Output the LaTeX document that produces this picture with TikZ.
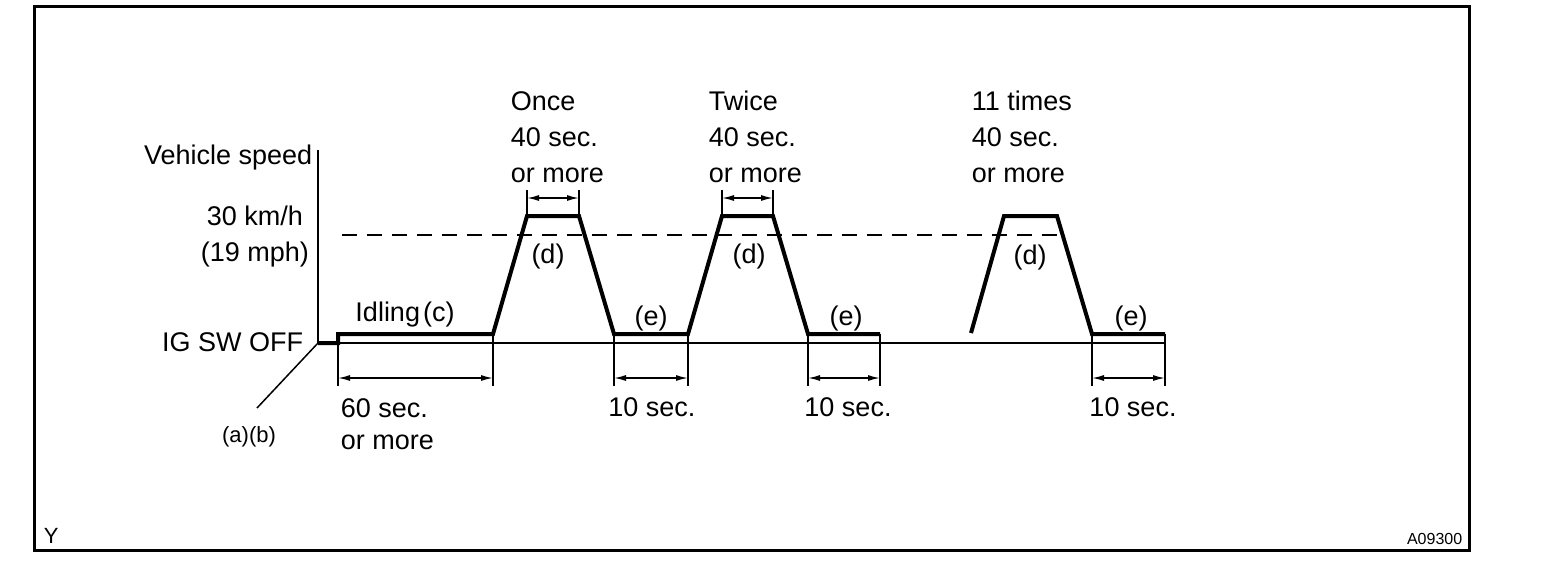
\documentclass[tikz,border=0pt]{standalone}
\usepackage{fontspec}
\setmainfont{Liberation Sans}
\usetikzlibrary{arrows.meta, positioning}
\tikzset{every picture/.append style={thick}}

\begin{document}
\begin{tikzpicture}[x=0.5pt, y=-0.5pt,
    speed/.style={line width=2pt, line join=miter},
    thin line/.style={line width=0.75pt},
    dim/.style={thin line, {Latex[length=6pt,width=3pt]}-{Latex[length=6pt,width=3pt]}},
    lbl/.style={font=\fontsize{13.5}{18}\selectfont, inner sep=0pt},
    small lbl/.style={font=\fontsize{11}{13}\selectfont, inner sep=0pt}]

    \useasboundingbox (0,0) rectangle (1568,564);
    \draw[line width=1.5pt] (34,6) rectangle (1469,550);

    % axes
    \coordinate (top) at (318,150);
    \coordinate (o) at (318,343);
    \coordinate (end) at (1165,343);
    \coordinate (ab) at (257,408);
    \draw[thin line] (top) -- (o) -- (end);
    \draw[thin line] (o) -- (ab);

    % 30 km/h level
    \coordinate (v1) at (342,235);
    \coordinate (v2) at (1063,235);
    \draw[line width=1pt, dash pattern=on 7.5pt off 5pt] (v1) -- (v2);

    % speed profile
    \coordinate (p0) at (338,334);
    \coordinate (p1) at (493,334);
    \coordinate (p2) at (527,216);
    \coordinate (p3) at (579,216);
    \coordinate (p4) at (614,334);
    \coordinate (p5) at (688,334);
    \coordinate (p6) at (722,216);
    \coordinate (p7) at (773,216);
    \coordinate (p8) at (808,334);
    \coordinate (p9) at (880,334);
    \coordinate (q0) at (971,333);
    \coordinate (q1) at (1004,216);
    \coordinate (q2) at (1057,216);
    \coordinate (q3) at (1092,334);
    \coordinate (q4) at (1165,334);
    \draw[speed] (o) -- (338,343) -- (p0) -- (p1) -- (p2) -- (p3) -- (p4) -- (p5)
        -- (p6) -- (p7) -- (p8) -- (p9);
    \draw[speed] (q0) -- (q1) -- (q2) -- (q3) -- (q4);

    % time marks
    \draw[thin line] (p0) -- (338,386) (p1) -- (493,386);
    \draw[dim] (338,378) -- (493,378);
    \foreach \a/\b in {614/688, 808/880, 1092/1165} {
        \draw[thin line] (\a,334) -- (\a,386) (\b,334) -- (\b,386);
        \draw[dim] (\a,378) -- (\b,378);
    }
    \foreach \a/\b in {527/579, 722/773} {
        \draw[thin line] (\a,190) -- (\a,216) (\b,190) -- (\b,216);
        \draw[dim] (\a,198) -- (\b,198);
    }

    % labels
    \node[lbl, anchor=east] (vs) at (313,158) {Vehicle speed};
    \node[lbl, align=center] (kmh) at (255,237) {30 km/h\\(19 mph)};
    \node[lbl, anchor=east] (ig) at (304,342) {IG SW OFF};
    \node[small lbl] (abl) at (249,437) {(a)(b)};
    \node[lbl] (idle) at (405,315) {Idling\kern1.5pt(c)};

    \node[lbl, anchor=west, align=left] (once) at (510,137) {Once\\40 sec.\\or more};
    \node[lbl, anchor=west, align=left] (twice) at (708,137) {Twice\\40 sec.\\or more};
    \node[lbl, anchor=west, align=left] (times) at (971,137) {11 times\\40 sec.\\or more};

    \node[lbl] (d1) at (548,257) {(d)};
    \node[lbl] (d2) at (749,257) {(d)};
    \node[lbl] (d3) at (1030,258) {(d)};
    \node[lbl] (e1) at (651,318) {(e)};
    \node[lbl] (e2) at (846,318) {(e)};
    \node[lbl] (e3) at (1131,318) {(e)};

    \node[lbl, anchor=north west, align=left, font=\fontsize{13.5}{16}\selectfont] (sixty) at (340,398) {60 sec.\\or more};
    \node[lbl] (t1) at (652,407) {10 sec.};
    \node[lbl] (t2) at (848,407) {10 sec.};
    \node[lbl] (t3) at (1133,407) {10 sec.};

    \node[small lbl, anchor=west] (y) at (43,536) {Y};
    \node[inner sep=0pt, font=\fontsize{8}{10}\selectfont, anchor=east] (code) at (1463,539) {A09300};
\end{tikzpicture}
\end{document}
